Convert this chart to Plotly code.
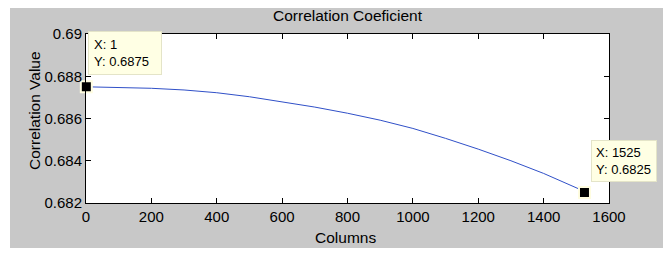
import plotly.graph_objects as go

# ---- data ----
columns = [1, 100, 200, 300, 400, 500, 600, 700, 800, 900, 1000, 1100, 1200, 1300, 1400, 1500, 1525]
corr = [0.68750, 0.68748, 0.68743, 0.68735, 0.68722, 0.68703, 0.68680, 0.68654, 0.68625,
        0.68592, 0.68553, 0.68506, 0.68455, 0.68400, 0.68340, 0.68275, 0.68255]
tip_x = [1, 1525]
tip_y = [0.6875, 0.6825]
x_ticks = [0, 200, 400, 600, 800, 1000, 1200, 1400, 1600]
y_ticks = [0.682, 0.684, 0.686, 0.688, 0.69]
y_ticklabels = ["0.682", "0.684", "0.686", "0.688", "0.69"]

FONT = "Liberation Sans, Arial, Helvetica, sans-serif"
W, H = 669, 253
L, R, T, B = 86, 60, 34, 50
PW, PH = W - L - R, H - T - B

def px_x(p):
    return (p - L) / PW

def px_y(p):
    return (H - B - p) / PH

fig = go.Figure()
fig.add_trace(go.Scatter(x=columns, y=corr, mode="lines",
                         line=dict(color="#3050c8", width=1), hoverinfo="skip",
                         showlegend=False))
fig.add_trace(go.Scatter(x=tip_x, y=tip_y, mode="markers", cliponaxis=False,
                         marker=dict(symbol="square", size=11, color="black",
                                     line=dict(color="#fffde0", width=2)),
                         hoverinfo="skip", showlegend=False))

annotations = []
# (xshift, yshift, width, borderpad)
tip_cfg = [(2, 12, 62, 5), (6.5, 10, 56, 4)]
for (tx, ty), (xs, ys, w, bp) in zip(zip(tip_x, tip_y), tip_cfg):
    annotations.append(dict(
        x=tx, y=ty, xref="x", yref="y", showarrow=False,
        xanchor="left", yanchor="bottom", xshift=xs, yshift=ys,
        text=f"X: {tx}<br>Y: {ty:.4f}", align="left", width=w,
        font=dict(family=FONT, size=13, color="black"),
        bgcolor="#ffffe4", bordercolor="#e4e4c8", borderwidth=1, borderpad=bp))

annotations.append(dict(text="Correlation Coeficient", xref="paper", yref="paper",
                        x=0.5, y=px_y(16), showarrow=False, xanchor="center", yanchor="middle",
                        font=dict(family=FONT, size=15.5, color="black")))
annotations.append(dict(text="Columns", xref="paper", yref="paper",
                        x=px_x(345.5), y=px_y(237), showarrow=False, xanchor="center", yanchor="middle",
                        font=dict(family=FONT, size=15.5, color="black")))
annotations.append(dict(text="Correlation Value", xref="paper", yref="paper",
                        x=px_x(34), y=px_y(111), showarrow=False, xanchor="center", yanchor="middle",
                        textangle=-90, font=dict(family=FONT, size=15.5, color="black")))

fig.update_layout(
    width=W, height=H,
    margin=dict(l=L, r=R, t=T, b=B, pad=0),
    paper_bgcolor="white", plot_bgcolor="white",
    font=dict(family=FONT, size=15, color="black"),
    showlegend=False,
    annotations=annotations,
    shapes=[
        dict(type="rect", xref="paper", yref="paper", layer="below",
             x0=px_x(10), x1=px_x(663), y0=px_y(248), y1=px_y(8),
             fillcolor="#c8c8c8", line=dict(width=0)),
        dict(type="rect", xref="paper", yref="paper", layer="below",
             x0=0, x1=1, y0=0, y1=1, fillcolor="white", line=dict(width=0)),
    ],
)
fig.update_xaxes(range=[0, 1600], tickvals=x_ticks, ticks="inside", ticklen=5,
                 tickcolor="black", showline=True, linecolor="black", linewidth=1,
                 mirror="ticks", showgrid=False, zeroline=False,
                 tickfont=dict(family=FONT, size=15, color="black"))
fig.update_yaxes(range=[0.682, 0.69], tickvals=y_ticks, ticktext=y_ticklabels,
                 ticks="inside", ticklen=5, tickcolor="black", showline=True,
                 linecolor="black", linewidth=1, mirror="ticks", showgrid=False,
                 zeroline=False, tickfont=dict(family=FONT, size=15, color="black"))

fig.write_html("out.html", config={"displayModeBar": False},
               post_script="document.body.style.margin='0';document.body.style.overflow='hidden';")
